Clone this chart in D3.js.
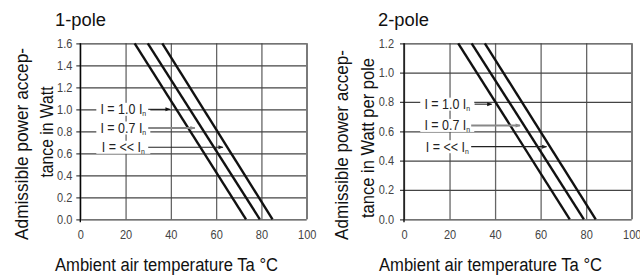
<!DOCTYPE html>
<html>
<head>
<meta charset="utf-8">
<script src="https://cdn.jsdelivr.net/npm/d3@7"></script>
<style>
  body { margin: 0; background: #fff; }
  svg { display: block; font-family: "Liberation Sans", Arial, sans-serif; }
  .tick text { fill: #444; font-size: 12.5px; }
</style>
</head>
<body>
<svg id="chart" width="640" height="279"></svg>
<script>
// x axis is the same for both panels
var xTicks = [0, 20, 40, 60, 80, 100];

// 1-pole: derating lines, [temperature, watt] end points
var pole1Ticks = [0, 0.2, 0.4, 0.6, 0.8, 1.0, 1.2, 1.4, 1.6];
var pole1Lines = [
  [[24.0, 1.6], [73.2, 0]],
  [[29.8, 1.6], [79.3, 0]],
  [[36.2, 1.6], [84.9, 0]]
];
// labels: text, level, arrow start, arrow end
var pole1Labels = ['1.0', '0.7', '<<'];
var pole1LabelY = [1.0, 0.83, 0.655];
var pole1ArrowFrom = [30, 30, 30];
var pole1ArrowTo = [39.6, 50.6, 63];

// 2-pole: watt per pole
var pole2Ticks = [0, 0.2, 0.4, 0.6, 0.8, 1.0, 1.2];
var pole2Lines = [
  [[23.8, 1.2], [72.8, 0]],
  [[29.7, 1.2], [79.0, 0]],
  [[35.5, 1.2], [84.2, 0]]
];
var pole2Labels = ['1.0', '0.7', '<<'];
var pole2LabelY = [0.785, 0.64, 0.495];
var pole2ArrowFrom = [31, 29.5, 29.5];
var pole2ArrowTo = [38.5, 51, 62.6];

var arrowStyles = [
  {color: '#111', width: 1},
  {color: '#888', width: 2},
  {color: '#222', width: 1.2}
];

var svg = d3.select('#chart');

var defs = svg.append('defs');
arrowStyles.forEach(function(s, i) {
  defs.append('marker')
    .attr('id', 'arr' + i)
    .attr('viewBox', '0 0 10 10')
    .attr('refX', 9).attr('refY', 5)
    .attr('markerUnits', 'userSpaceOnUse')
    .attr('markerWidth', 7).attr('markerHeight', 5)
    .attr('orient', 'auto')
    .append('path')
    .attr('d', 'M0,1 L10,5 L0,9 Z')
    .attr('fill', s.color);
});

// squeeze a text to a fixed length (the original uses a condensed face)
var fit = function(sel, len) {
  return sel.attr('textLength', len).attr('lengthAdjust', 'spacingAndGlyphs');
};

var drawPanel = function(cfg) {
  var g = svg.append('g');
  var x = d3.scaleLinear().domain([0, 100]).range([cfg.left, cfg.right]);
  var y = d3.scaleLinear().domain([0, cfg.yMax]).range([cfg.bottom, cfg.top]);
  var w = cfg.right - cfg.left, h = cfg.bottom - cfg.top;

  // title
  fit(g.append('text')
    .attr('x', cfg.titleX).attr('y', 26)
    .attr('font-size', 18).attr('fill', '#111')
    .text(cfg.title), 51);

  // vertical grid
  var xg = g.append('g')
    .attr('transform', 'translate(0,' + cfg.bottom + ')')
    .call(d3.axisBottom(x).tickValues(xTicks).tickSize(-h).tickPadding(11).tickFormat(d3.format('d')));
  xg.select('.domain').remove();
  xg.selectAll('.tick line').attr('stroke', '#666').attr('stroke-width', 1.3);
  xg.selectAll('.tick text').attr('transform', 'scale(0.88,1)');

  // horizontal grid + y ticks
  var yg = g.append('g')
    .attr('transform', 'translate(' + cfg.left + ',0)')
    .call(d3.axisLeft(y).tickValues(cfg.yTicks).tickSizeInner(-w).tickSizeOuter(0).tickFormat(d3.format('.1f')));
  yg.select('.domain').remove();
  yg.selectAll('.tick line').attr('stroke', '#444').attr('stroke-width', 1.3).attr('x1', -4);
  yg.selectAll('.tick text').attr('x', -cfg.yLabelGap / 0.88).attr('transform', 'scale(0.88,1)');

  // frame: left axis black, right gray
  g.append('line')
    .attr('x1', cfg.left).attr('x2', cfg.left)
    .attr('y1', cfg.top).attr('y2', cfg.bottom + 3)
    .attr('stroke', '#000').attr('stroke-width', 1.3);
  g.append('line')
    .attr('x1', cfg.right).attr('x2', cfg.right)
    .attr('y1', cfg.top).attr('y2', cfg.bottom)
    .attr('stroke', '#777').attr('stroke-width', 1.3);

  // derating lines
  var line = d3.line().x(function(d) { return x(d[0]); }).y(function(d) { return y(d[1]); });
  g.selectAll('.derate')
    .data(cfg.lines)
    .enter().append('path')
    .attr('class', 'derate')
    .attr('d', line)
    .attr('fill', 'none')
    .attr('stroke', '#111')
    .attr('stroke-width', 2.4);

  // labels with arrows
  cfg.labels.forEach(function(txt, i) {
    var cy = y(cfg.labelY[i]);
    var cx = x(19);
    g.append('rect')
      .attr('x', cx - 27).attr('y', cy - 6.5)
      .attr('width', 54).attr('height', 13)
      .attr('fill', '#fff');
    var t = g.append('text')
      .attr('transform', 'translate(' + cx + ',' + (cy + 5) + ') scale(0.86,1)')
      .attr('text-anchor', 'middle')
      .attr('font-size', 14.5).attr('fill', '#222');
    t.append('tspan').text('I = ' + txt + ' I');
    t.append('tspan').attr('font-size', 8).attr('dy', 2).text('n');
    var s = arrowStyles[i];
    g.append('line')
      .attr('x1', x(cfg.arrowFrom[i])).attr('x2', x(cfg.arrowTo[i]))
      .attr('y1', cy).attr('y2', cy)
      .attr('stroke', s.color).attr('stroke-width', s.width)
      .attr('marker-end', 'url(#arr' + i + ')');
  });

  // y axis title, two lines
  cfg.yTitle.forEach(function(l, i) {
    fit(g.append('text')
      .attr('transform', 'translate(' + cfg.yTitleX[i] + ',' + cfg.yTitleY[i] + ') rotate(-90)')
      .attr('text-anchor', 'middle')
      .attr('font-size', 19).attr('fill', '#111')
      .text(l), cfg.yTitleLen[i]);
  });

  // x axis title
  fit(g.append('text')
    .attr('x', cfg.xTitleX).attr('y', 271)
    .attr('text-anchor', 'middle')
    .attr('font-size', 18).attr('fill', '#111')
    .text('Ambient air temperature Ta °C'), 223);
};

drawPanel({
  title: '1-pole', titleX: 55,
  left: 80.3, right: 306.7, top: 43.3, bottom: 219.3, yLabelGap: 8,
  yMax: 1.6, yTicks: pole1Ticks, lines: pole1Lines,
  labels: pole1Labels, labelY: pole1LabelY, arrowFrom: pole1ArrowFrom, arrowTo: pole1ArrowTo,
  yTitle: ['Admissible power accep-', 'tance in Watt'],
  yTitleX: [28, 53], yTitleY: [144, 132], yTitleLen: [192, 91],
  xTitleX: 166.5
});

drawPanel({
  title: '2-pole', titleX: 378,
  left: 404, right: 631.7, top: 43.3, bottom: 219.3, yLabelGap: 10,
  yMax: 1.2, yTicks: pole2Ticks, lines: pole2Lines,
  labels: pole2Labels, labelY: pole2LabelY, arrowFrom: pole2ArrowFrom, arrowTo: pole2ArrowTo,
  yTitle: ['Admissible power accep-', 'tance in Watt per pole'],
  yTitleX: [348, 374], yTitleY: [145, 138], yTitleLen: [190, 160],
  xTitleX: 490.5
});
</script>
</body>
</html>
